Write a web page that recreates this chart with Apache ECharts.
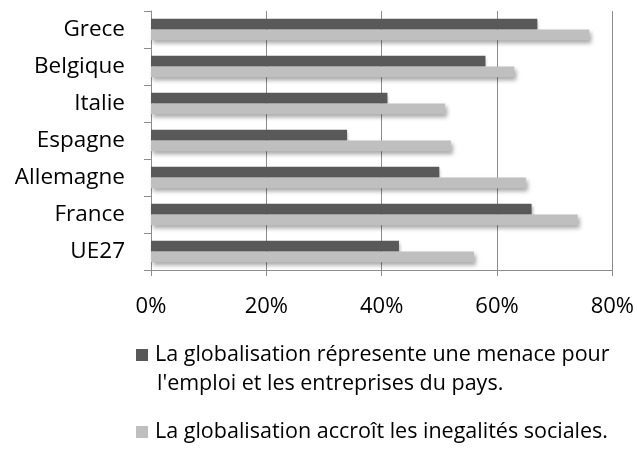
<!DOCTYPE html>
<html>
<head>
<meta charset="utf-8">
<script src="https://cdn.jsdelivr.net/npm/echarts@6/dist/echarts.min.js"></script>
<style>
  html, body { margin: 0; padding: 0; background: #fff; }
  #chart { width: 637px; height: 454px; }
</style>
</head>
<body>
<div id="chart"></div>
<script>
// pays, du bas vers le haut
const countries = ['UE27', 'France', 'Allemagne', 'Espagne', 'Italie', 'Belgique', 'Grece']
const menace = [43, 66, 50, 34, 41, 58, 67]
const inegalites = [56, 74, 65, 52, 51, 63, 76]
const xTicks = [0, 20, 40, 60, 80]
const seriesNames = [
  "La globalisation répresente une menace pour\nl'emploi et les entreprises du pays.",
  'La globalisation accroît les inegalités sociales.'
]

const font = '"Open Sans", "Noto Sans", sans-serif'
const gridColor = '#8c8c8c'

const chart = echarts.init(document.getElementById('chart'))

chart.setOption({
  animation: false,
  grid: { left: 151, right: 24, top: 11, bottom: 184, containLabel: false },
  xAxis: {
    type: 'value',
    min: xTicks[0],
    max: xTicks[xTicks.length - 1],
    interval: 20,
    axisLine: { show: true, lineStyle: { color: gridColor } },
    axisTick: { show: true, length: 6, lineStyle: { color: gridColor } },
    splitLine: { show: true, lineStyle: { color: gridColor, width: 1 } },
    axisLabel: { color: '#000', fontFamily: font, fontSize: 22, margin: 26, formatter: '{value}%' }
  },
  yAxis: {
    type: 'category',
    data: countries,
    axisLine: { show: true, lineStyle: { color: gridColor } },
    axisTick: { show: true, length: 7, lineStyle: { color: gridColor } },
    axisLabel: { color: '#000', fontFamily: font, fontSize: 22.5, margin: 26 }
  },
  legend: {
    orient: 'vertical',
    left: 131,
    top: 339,
    itemWidth: 12,
    itemHeight: 12,
    itemGap: 55,
    icon: 'rect',
    data: seriesNames,
    formatter: name => name.split('\n')[0],
    textStyle: { color: '#000', fontFamily: font, fontSize: 21.5, padding: [0, 0, 0, 2] }
  },
  graphic: [{
    type: 'text',
    left: 157,
    top: 373,
    style: { text: seriesNames[0].split('\n')[1], fill: '#000', font: '21.5px ' + font }
  }],
  series: [
    {
      name: seriesNames[0],
      type: 'bar',
      data: menace,
      barGap: '0%',
      barCategoryGap: '42%',
      itemStyle: { color: '#595959', shadowBlur: 3, shadowOffsetX: 1, shadowOffsetY: 2, shadowColor: 'rgba(0,0,0,0.3)' }
    },
    {
      name: seriesNames[1],
      type: 'bar',
      data: inegalites,
      itemStyle: { color: '#bfbfbf', shadowBlur: 4, shadowOffsetX: 2, shadowOffsetY: 3, shadowColor: 'rgba(0,0,0,0.35)' }
    }
  ]
})
</script>
</body>
</html>
